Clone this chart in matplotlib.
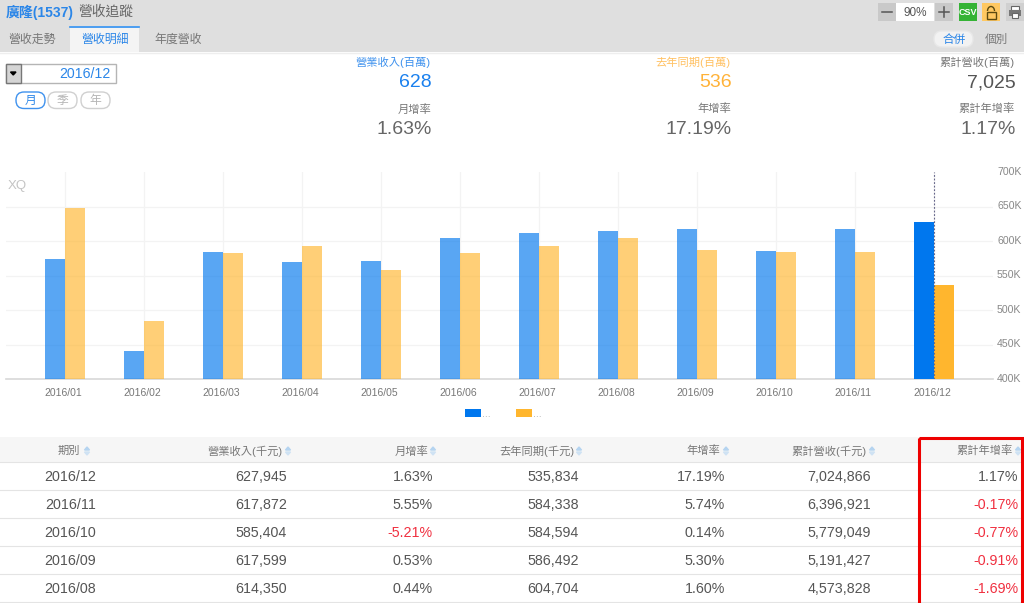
import numpy as np
import matplotlib
matplotlib.use("Agg")
import matplotlib.pyplot as plt
from matplotlib.patches import Rectangle, FancyBboxPatch, Arc
from matplotlib.transforms import ScaledTranslation

plt.rcParams['font.family'] = ['Liberation Sans', 'Noto Sans CJK TC', 'DejaVu Sans']

months = ["2016/01", "2016/02", "2016/03", "2016/04", "2016/05", "2016/06",
          "2016/07", "2016/08", "2016/09", "2016/10", "2016/11", "2016/12"]
revenue = [574, 441, 584, 569, 571, 604, 611, 614.35, 617.599, 585.404, 617.872, 627.945]
last_year = [648, 484, 582, 593, 558, 583, 593, 604.704, 586.492, 584.594, 584.338, 535.834]
y_ticks = [400, 450, 500, 550, 600, 650, 700]

headers = ["期別", "營業收入(千元)", "月增率", "去年同期(千元)", "年增率", "累計營收(千元)", "累計年增率"]
periods = ["2016/12", "2016/11", "2016/10", "2016/09", "2016/08"]
col_revenue = ["627,945", "617,872", "585,404", "617,599", "614,350"]
col_mom = ["1.63%", "5.55%", "-5.21%", "0.53%", "0.44%"]
col_last = ["535,834", "584,338", "584,594", "586,492", "604,704"]
col_yoy = ["17.19%", "5.74%", "0.14%", "5.30%", "1.60%"]
col_cum = ["7,024,866", "6,396,921", "5,779,049", "5,191,427", "4,573,828"]
col_cumyoy = ["1.17%", "-0.17%", "-0.77%", "-0.91%", "-1.69%"]

BLUE = "#0077ee"
ORANGE = "#ffb62e"
GRAY = "#555555"
RED = "#f03040"

W, H = 1024, 603
fig = plt.figure(figsize=(W / 100, H / 100), dpi=100)

# page layer in pixel coords, y going down
ui = fig.add_axes([0, 0, 1, 1])
ui.set_xlim(0, W)
ui.set_ylim(H, 0)
ui.axis("off")


def txt(x, y, s, size=9.5, color=GRAY, ha="right", **kw):
    ui.text(x, y, s, fontsize=size, color=color, ha=ha, va="center", **kw)


def box(x, y, w, h, fc, ec="none", lw=0, z=1):
    ui.add_patch(Rectangle((x, y), w, h, fc=fc, ec=ec, lw=lw, zorder=z))


def pill(x, y, w, h, ec, fc="white", lw=1):
    ui.add_patch(FancyBboxPatch((x + 3, y + 3), w - 6, h - 6,
                                boxstyle="round,pad=3,rounding_size=8", fc=fc, ec=ec, lw=lw))


# top bar
box(0, 0, W, 52, "#dfdfdf")
ui.plot([0, W], [52.5, 52.5], color="#eeeeee", lw=1)
txt(6, 12, "廣隆(1537)", 10, "#2b86e8", "left", fontweight="bold")
txt(78, 12, "營收追蹤", 9.9, "#666666", "left")
box(70, 26, 69, 26, "#f4f4f4")
ui.plot([70, 139], [26.5, 26.5], color="#2f8ff0", lw=1.2)
txt(8, 40, "營收走勢", 8.6, "#777777", "left")
txt(81, 40, "營收明細", 8.6, "#2b86e8", "left")
txt(154, 40, "年度營收", 8.6, "#777777", "left")

# toolbar on the right
box(878, 3, 18, 18, "#c9c9c9")
box(896, 3, 38, 18, "white")
box(935, 3, 18, 18, "#c9c9c9")
txt(915, 12.5, "90%", 8.5, "#555555", "center")
ui.plot([882, 892], [11.5, 11.5], color="#555555", lw=1.1)
ui.plot([939, 949], [11.5, 11.5], color="#555555", lw=1.1)
ui.plot([944, 944], [6.5, 16.5], color="#555555", lw=1.1)
box(959, 3, 18, 18, "#35b335")
txt(968, 12.5, "CSV", 6.5, "white", "center", fontweight="bold")
box(982, 3, 18, 18, "#ffc861")
ui.add_patch(Arc((991, 11), 7, 9, theta1=180, theta2=360, ec="#5c4a10", lw=1, zorder=3))
box(987, 12, 9, 7, "#ffc861", "#5c4a10", 1, 3)
box(1006, 3, 18, 18, "#d0d0d0")
box(1011, 6, 8, 4, "white", "#666666", 0.8, 2)
box(1009, 10, 12, 6, "#777777", z=2)
box(1012, 13, 6, 5, "white", "#666666", 0.8, 3)
pill(934, 31, 39, 16, "#e8e8e8", "#f2f2f2")
txt(954.5, 39.5, "合併", 8.4, "#2b86e8", "center")
txt(996.5, 39.5, "個別", 8.4, "#777777", "center")

# date picker
box(5.5, 63.5, 110, 19, "white", "#b5b5b5", 1)
box(5.5, 63.5, 15, 19, "#d5d5d5", "#777777", 1)
ui.fill([10.5, 16, 13.25], [72, 72, 75], color="black", zorder=3)
txt(111, 73.5, "2016/12", 10.2, "#2b86e8")
pill(16, 92, 29, 16.5, "#3f92ee")
pill(48, 92, 29, 16.5, "#d0d0d0")
pill(81, 92, 29, 16.5, "#d0d0d0")
txt(30.5, 101, "月", 8.5, "#2b86e8", "center")
txt(62.5, 101, "季", 8.5, "#b5b5b5", "center")
txt(95.5, 101, "年", 8.5, "#b5b5b5", "center")

# summary figures
txt(431, 62, "營業收入(百萬)", 8.1, "#3f92ee")
txt(432, 82.5, "628", 14, "#1a80ee")
txt(431, 109, "月增率", 8.1, "#777777")
txt(432, 129.5, "1.63%", 14, "#666666")
txt(731, 62, "去年同期(百萬)", 8.1, "#ffc163")
txt(732, 82.5, "536", 14, "#ffb238")
txt(731, 109, "年增率", 8.1, "#777777")
txt(732, 129.5, "17.19%", 14, "#666666")
txt(1015, 62, "累計營收(百萬)", 8.1, "#777777")
txt(1016, 82.5, "7,025", 14, "#555555")
txt(1015, 109, "累計年增率", 8.1, "#777777")
txt(1016, 129.5, "1.17%", 14, "#666666")

# chart: plot area spans x 6..993, y 172..379 px
ax = fig.add_axes([6 / W, 1 - 379 / H, 987 / W, 207 / H])
ax.patch.set_alpha(0)
x = np.arange(len(months))
bw = 0.25
for i in x:
    a = 1 if i == len(months) - 1 else 0.65
    ax.bar(i - bw / 2, revenue[i] - 400, bw, bottom=400, color=BLUE, alpha=a, lw=0, zorder=3)
    ax.bar(i + bw / 2, last_year[i] - 400, bw, bottom=400, color=ORANGE, alpha=a, lw=0, zorder=3)
ax.set_xlim(-0.747, 11.747)
ax.set_ylim(400, 700)
ax.yaxis.tick_right()
ax.set_yticks(y_ticks)
ax.set_yticklabels([f"{v}K" for v in y_ticks], fontsize=7.6, color="#888888")
ax.set_xticks(x)
ax.set_xticklabels(months, fontsize=7.5, color="#777777")
ax.tick_params(axis="y", length=0, pad=2.9)
ax.tick_params(axis="x", length=0, pad=6.5)
# labels sit a little off the ticks in the original
for lab in ax.get_xticklabels():
    lab.set_transform(lab.get_transform() + ScaledTranslation(-0.02, 0, fig.dpi_scale_trans))
for lab in ax.get_yticklabels():
    lab.set_transform(lab.get_transform() + ScaledTranslation(0, 0.012, fig.dpi_scale_trans))
for v in y_ticks[1:-1]:
    ax.axhline(v, color="#f3f3f3", lw=0.9, zorder=0)
for i in x:
    ax.axvline(i, color="#f3f3f3", lw=0.9, zorder=0)
for s in ["top", "left", "right"]:
    ax.spines[s].set_visible(False)
ax.spines["bottom"].set_color("#d8d8d8")
ax.spines["bottom"].set_linewidth(1.2)
ax.axvline(x[-1], color="#66668a", lw=0.8, ls=(0, (1.6, 1.6)), zorder=4)
ax.text(0.002, 0.93, "XQ", transform=ax.transAxes, fontsize=9.5, color="#c4c4c4", va="center")

# legend
box(465, 409, 16, 8, BLUE)
box(516, 409, 16, 8, ORANGE)
txt(482, 414, "...", 7.5, "#aaaaaa", "left")
txt(533, 414, "...", 7.5, "#aaaaaa", "left")

# table
box(0, 437, W, 25, "#f6f6f6")
right_edges = [None, 287, 433, 579, 725, 871, 1018]
header_edges = [None, 283, 428, 574, 720, 867, 1013]
txt(69, 451, headers[0], 8.1, "#777777", "center")
for h, r in zip(headers[1:], header_edges[1:]):
    txt(r, 451, h, 8.1, "#777777")
for xs in [87, 288, 433, 579, 726, 872, 1018]:
    ui.fill([xs - 2.5, xs + 2.5, xs], [450, 450, 447], color="#b5d4f0", zorder=3)
    ui.fill([xs - 2.5, xs + 2.5, xs], [452, 452, 455], color="#cfe2f3", zorder=3)
for ly in [462, 490, 518, 546, 574, 602]:
    ui.plot([0, W], [ly + 0.4, ly + 0.4], color="#e4e4e4", lw=0.8)

columns = [col_revenue, col_mom, col_last, col_yoy, col_cum, col_cumyoy]
for r, p in enumerate(periods):
    yy = 477 + r * 28
    txt(70.5, yy, p, 10.3, "#555555", "center")
    for col, edge in zip(columns, right_edges[1:]):
        s = col[r]
        txt(edge, yy, s, 10.3, RED if s.startswith("-") else "#555555")

# red highlight around the last column
ui.add_patch(Rectangle((918.5, 438), 103, 167, fc="none", ec="#ee0000", lw=2.2, zorder=5))

fig.savefig("out.png", dpi=100)
